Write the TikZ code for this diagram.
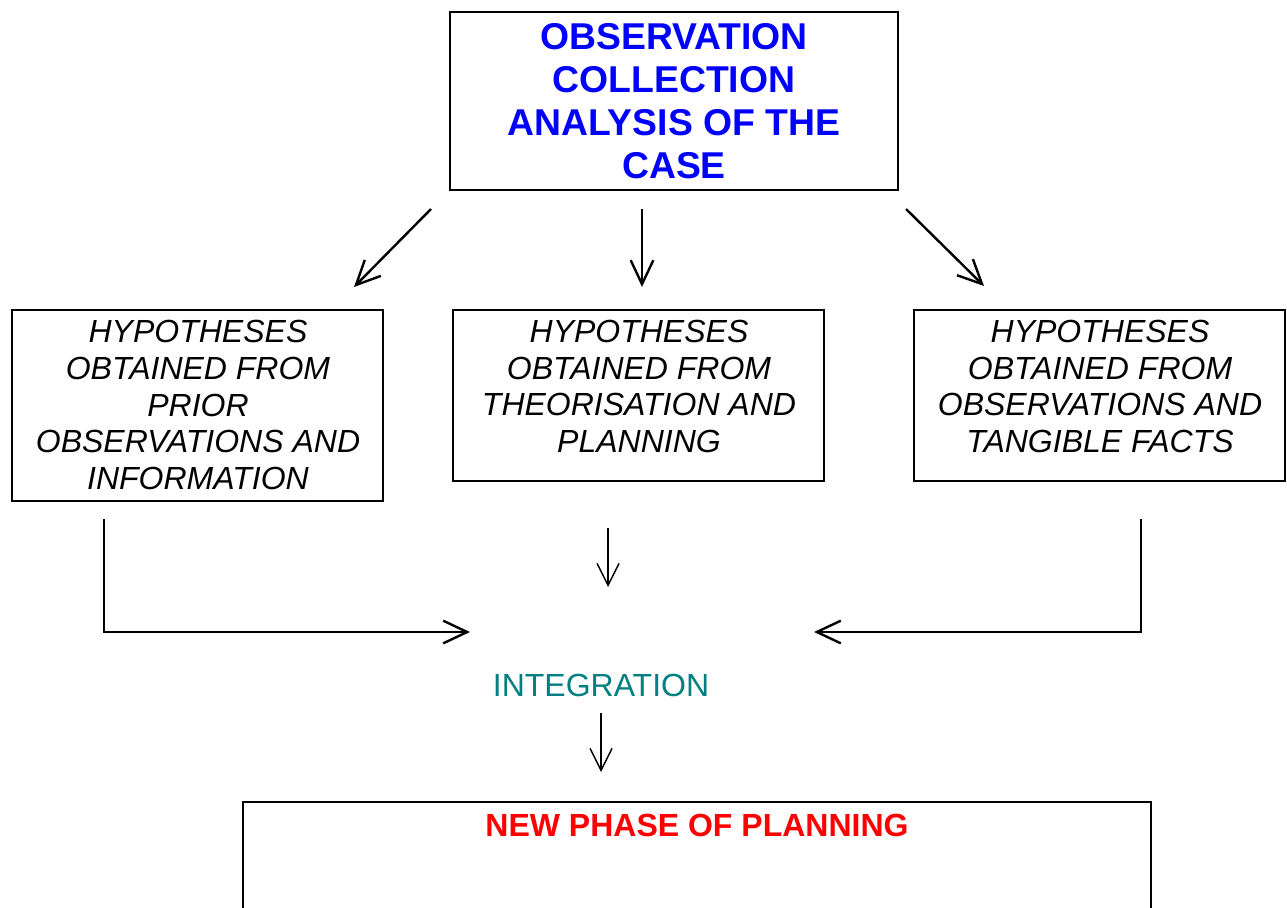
\documentclass[tikz,border=0pt]{standalone}
\usepackage{fontspec}
\setmainfont{Liberation Sans}
\usetikzlibrary{arrows.meta}
\definecolor{obsblue}{RGB}{0,0,255}
\definecolor{integteal}{RGB}{0,128,128}
\definecolor{newred}{RGB}{255,0,0}
\tikzset{
  box/.style={draw, line width=1.4pt, inner sep=0pt},
  hyptext/.style={align=center, inner sep=0pt, font=\fontsize{24}{27.7}\selectfont\itshape},
  bigarrow/.style={line width=1.8pt, -{Straight Barb[length=18pt,width=17pt,line width=1.8pt]}},
  thinarrow/.style={line width=1.1pt, -{Straight Barb[length=16.5pt,width=16.5pt,line width=1.1pt]}},
}
\begin{document}
\begin{tikzpicture}[x=0.75pt,y=-0.75pt]
\useasboundingbox (0,0) rectangle (1287,907);
\clip (0,0) rectangle (1287,907);

% top box
\node[box, minimum width=336pt, minimum height=133.5pt] (top) at (674,101) {};
\node[align=center, inner sep=0pt, text=obsblue, font=\fontsize{28}{32.3}\selectfont\bfseries] (toptext) at (674,101)
  {OBSERVATION\\COLLECTION\\ANALYSIS OF THE\\CASE};

% hypotheses boxes
\node[box, minimum width=278.25pt, minimum height=143.25pt] (hypA) at (197.5,405.5) {};
\node[hyptext] (hypAt) at (198,405) {HYPOTHESES\\OBTAINED FROM\\PRIOR\\OBSERVATIONS AND\\INFORMATION};

\node[box, minimum width=278.25pt, minimum height=128.25pt] (hypB) at (638.5,395.5) {};
\node[hyptext] (hypBt) at (639,386.5) {HYPOTHESES\\OBTAINED FROM\\THEORISATION AND\\PLANNING};

\node[box, minimum width=278.25pt, minimum height=128.25pt] (hypC) at (1099.5,395.5) {};
\node[hyptext] (hypCt) at (1100,386.5) {HYPOTHESES\\OBTAINED FROM\\OBSERVATIONS AND\\TANGIBLE FACTS};

% integration
\node[inner sep=0pt, text=integteal, font=\fontsize{24}{27.7}\selectfont] (integ) at (601,685) {INTEGRATION};

% bottom box (cut off by the page edge)
\node[box, line width=1.7pt, minimum width=681pt, minimum height=150pt] (newbox) at (697,902) {};
\node[inner sep=0pt, text=newred, font=\fontsize{24}{27.7}\selectfont\bfseries] (newtext) at (697,825) {NEW PHASE OF PLANNING};

% arrow end points
\coordinate (a1s) at (431,209); \coordinate (a1e) at (354,287);
\coordinate (a2s) at (642,209); \coordinate (a2e) at (642,287);
\coordinate (a3s) at (906,209); \coordinate (a3e) at (984,286);
\coordinate (m1s) at (608,528); \coordinate (m1e) at (608,587);
\coordinate (l1s) at (104,519); \coordinate (l1e) at (470,632);
\coordinate (r1s) at (1141,519); \coordinate (r1e) at (814,632);
\coordinate (b1s) at (601,713); \coordinate (b1e) at (601,772);

\draw[bigarrow] (a1s) -- (a1e);
\draw[bigarrow] (a2s) -- (a2e);
\draw[bigarrow] (a3s) -- (a3e);
\draw[thinarrow] (m1s) -- (m1e);
\draw[bigarrow] (l1s) |- (l1e);
\draw[bigarrow] (r1s) |- (r1e);
\draw[thinarrow] (b1s) -- (b1e);
\end{tikzpicture}
\end{document}
